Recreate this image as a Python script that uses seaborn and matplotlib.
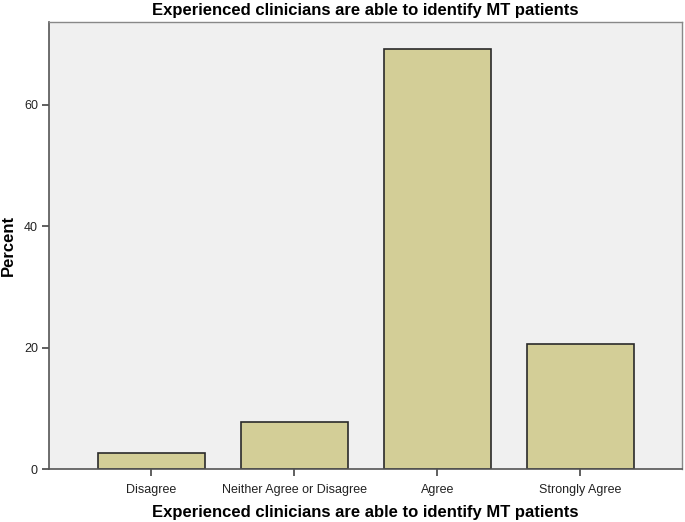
import matplotlib
matplotlib.use("Agg")
import matplotlib.pyplot as plt
import seaborn as sns
import pandas as pd

categories = ["Disagree", "Neither Agree or Disagree", "Agree", "Strongly Agree"]
percent = [2.56, 7.69, 69.23, 20.51]
yticks = [0, 20, 40, 60]

sns.set_theme(style="white")
plt.rcParams['font.family'] = ['Liberation Sans', 'DejaVu Sans']

df = pd.DataFrame({"cat": categories, "pct": percent})

fig = plt.figure(figsize=(6.85, 5.22), dpi=100)
ax = fig.add_axes([49/685, 1-469/522, (682-49)/685, (469-22)/522])
ax.set_facecolor("#F0F0F0")

sns.barplot(data=df, x="cat", y="pct", order=categories, color="#D3CE97",
            saturation=1, width=0.75, edgecolor="#2a2a2a", linewidth=1.2, ax=ax)

ax.set_xlim(-0.717, 3.713)
ax.set_ylim(0, 73.6)
ax.set_yticks(yticks)
ax.set_yticklabels([str(t) for t in yticks])

for s in ["top", "right"]:
    ax.spines[s].set_color("#888888")
    ax.spines[s].set_linewidth(1.0)
for s in ["left", "bottom"]:
    ax.spines[s].set_color("#555555")
    ax.spines[s].set_linewidth(1.2)

ax.tick_params(axis="both", direction="out", length=5, width=1.2, color="#444444",
               labelsize=9, labelcolor="#222222", left=True, bottom=True, pad=3)
ax.tick_params(axis="x", pad=6)

ax.set_xlabel("Experienced clinicians are able to identify MT patients",
              fontsize=12, fontweight="bold", labelpad=6, color="black")
ax.set_ylabel("Percent", fontsize=12, fontweight="bold", labelpad=6, color="black")
ax.set_title("Experienced clinicians are able to identify MT patients",
             fontsize=12, fontweight="bold", pad=5, color="black")

fig.savefig("out.png", dpi=100)
